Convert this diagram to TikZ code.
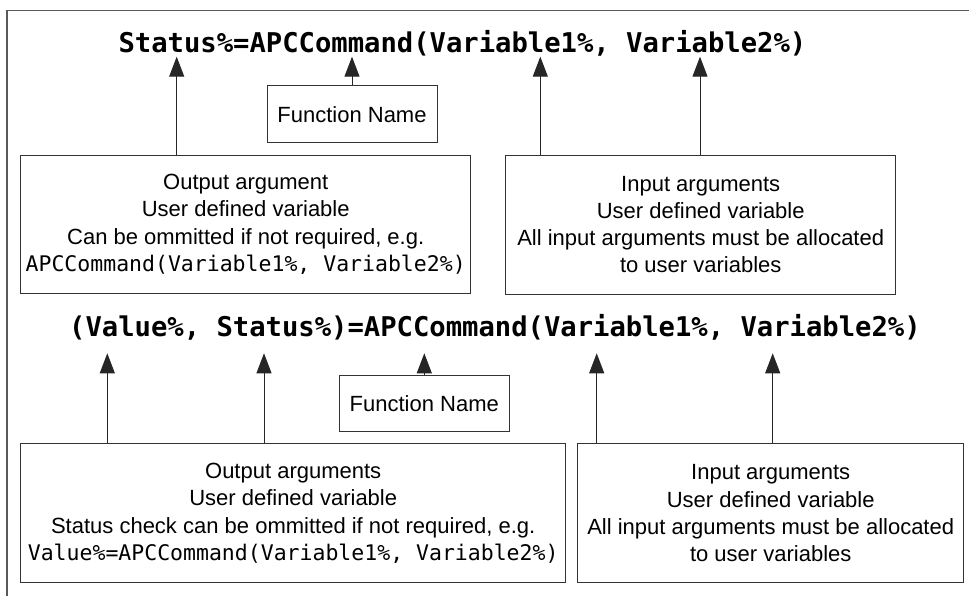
\documentclass[tikz,border=0pt]{standalone}
\usepackage{fontspec}
\setmainfont{Liberation Sans}
\newfontfamily\monofont{DejaVu Sans Mono}
\usetikzlibrary{arrows.meta}
\newcommand{\titlefont}{\monofont\bfseries\fontsize{27.2}{32}\selectfont}
\newcommand{\mcode}[1]{{\monofont\fontsize{21.5}{27.3}\selectfont #1}}
\tikzset{
  box/.style={draw=black!80, line width=1pt, inner sep=0pt, align=center,
    font=\fontsize{22}{27.3}\selectfont},
  title/.style={anchor=base, inner sep=0pt, font=\titlefont},
  arr/.style={draw=black!85, line width=1pt, -{Triangle[length=20pt,width=15pt]}},
  frame/.style={draw=black!65, line width=1.5pt}
}
\begin{document}
\begin{tikzpicture}[x=1pt,y=-1pt]
\useasboundingbox (0,0) rectangle (969,595);
\fill[white] (0,0) rectangle (969,595);
\draw[frame] (975,10.7) -- (7,10.7) -- (7,600);

% ---- top section ----
\node[title] (t1) at (462.5,52) {Status\%=APCCommand(Variable1\%, Variable2\%)};
\node[box, minimum width=170pt, minimum height=56.7pt] (fn1) at (352,114.3) {Function Name};
\node[box, minimum width=450pt, minimum height=138.3pt] (out1) at (245.7,224.2)
  {Output argument\\User defined variable\\Can be ommitted if not required, e.g.\\\mcode{APCCommand(Variable1\%, Variable2\%)}};
\node[box, minimum width=390pt, minimum height=139pt] (in1) at (700.7,224.5)
  {Input arguments\\User defined variable\\All input arguments must be allocated\\to user variables};

\coordinate (a1) at (176.7,56.7);
\coordinate (a2) at (352,56.7);
\coordinate (a3) at (540.3,56.7);
\coordinate (a4) at (700,56.7);
\draw[arr] (out1.north -| a1) -- (a1);
\draw[arr] (fn1.north) -- (a2);
\draw[arr] (in1.north -| a3) -- (a3);
\draw[arr] (in1.north -| a4) -- (a4);

% ---- bottom section ----
\node[title] (t2) at (495,336.7) {(Value\%, Status\%)=APCCommand(Variable1\%, Variable2\%)};
\node[box, minimum width=170pt, minimum height=56pt] (fn2) at (424.3,403.7) {Function Name};
\node[box, minimum width=545pt, minimum height=138.7pt] (out2) at (293.2,513.3)
  {Output arguments\\User defined variable\\Status check can be ommitted if not required, e.g.\\\mcode{Value\%=APCCommand(Variable1\%, Variable2\%)}};
\node[box, minimum width=386pt, minimum height=138.7pt] (in2) at (770.7,513.3)
  {Input arguments\\User defined variable\\All input arguments must be allocated\\to user variables};

\coordinate (b1) at (107.3,353.3);
\coordinate (b2) at (264,353.3);
\coordinate (b3) at (424.3,353.3);
\coordinate (b4) at (596.7,353.3);
\coordinate (b5) at (772.7,353.3);
\draw[arr] (out2.north -| b1) -- (b1);
\draw[arr] (out2.north -| b2) -- (b2);
\draw[arr] (fn2.north) -- (b3);
\draw[arr] (in2.north -| b4) -- (b4);
\draw[arr] (in2.north -| b5) -- (b5);
\end{tikzpicture}
\end{document}
